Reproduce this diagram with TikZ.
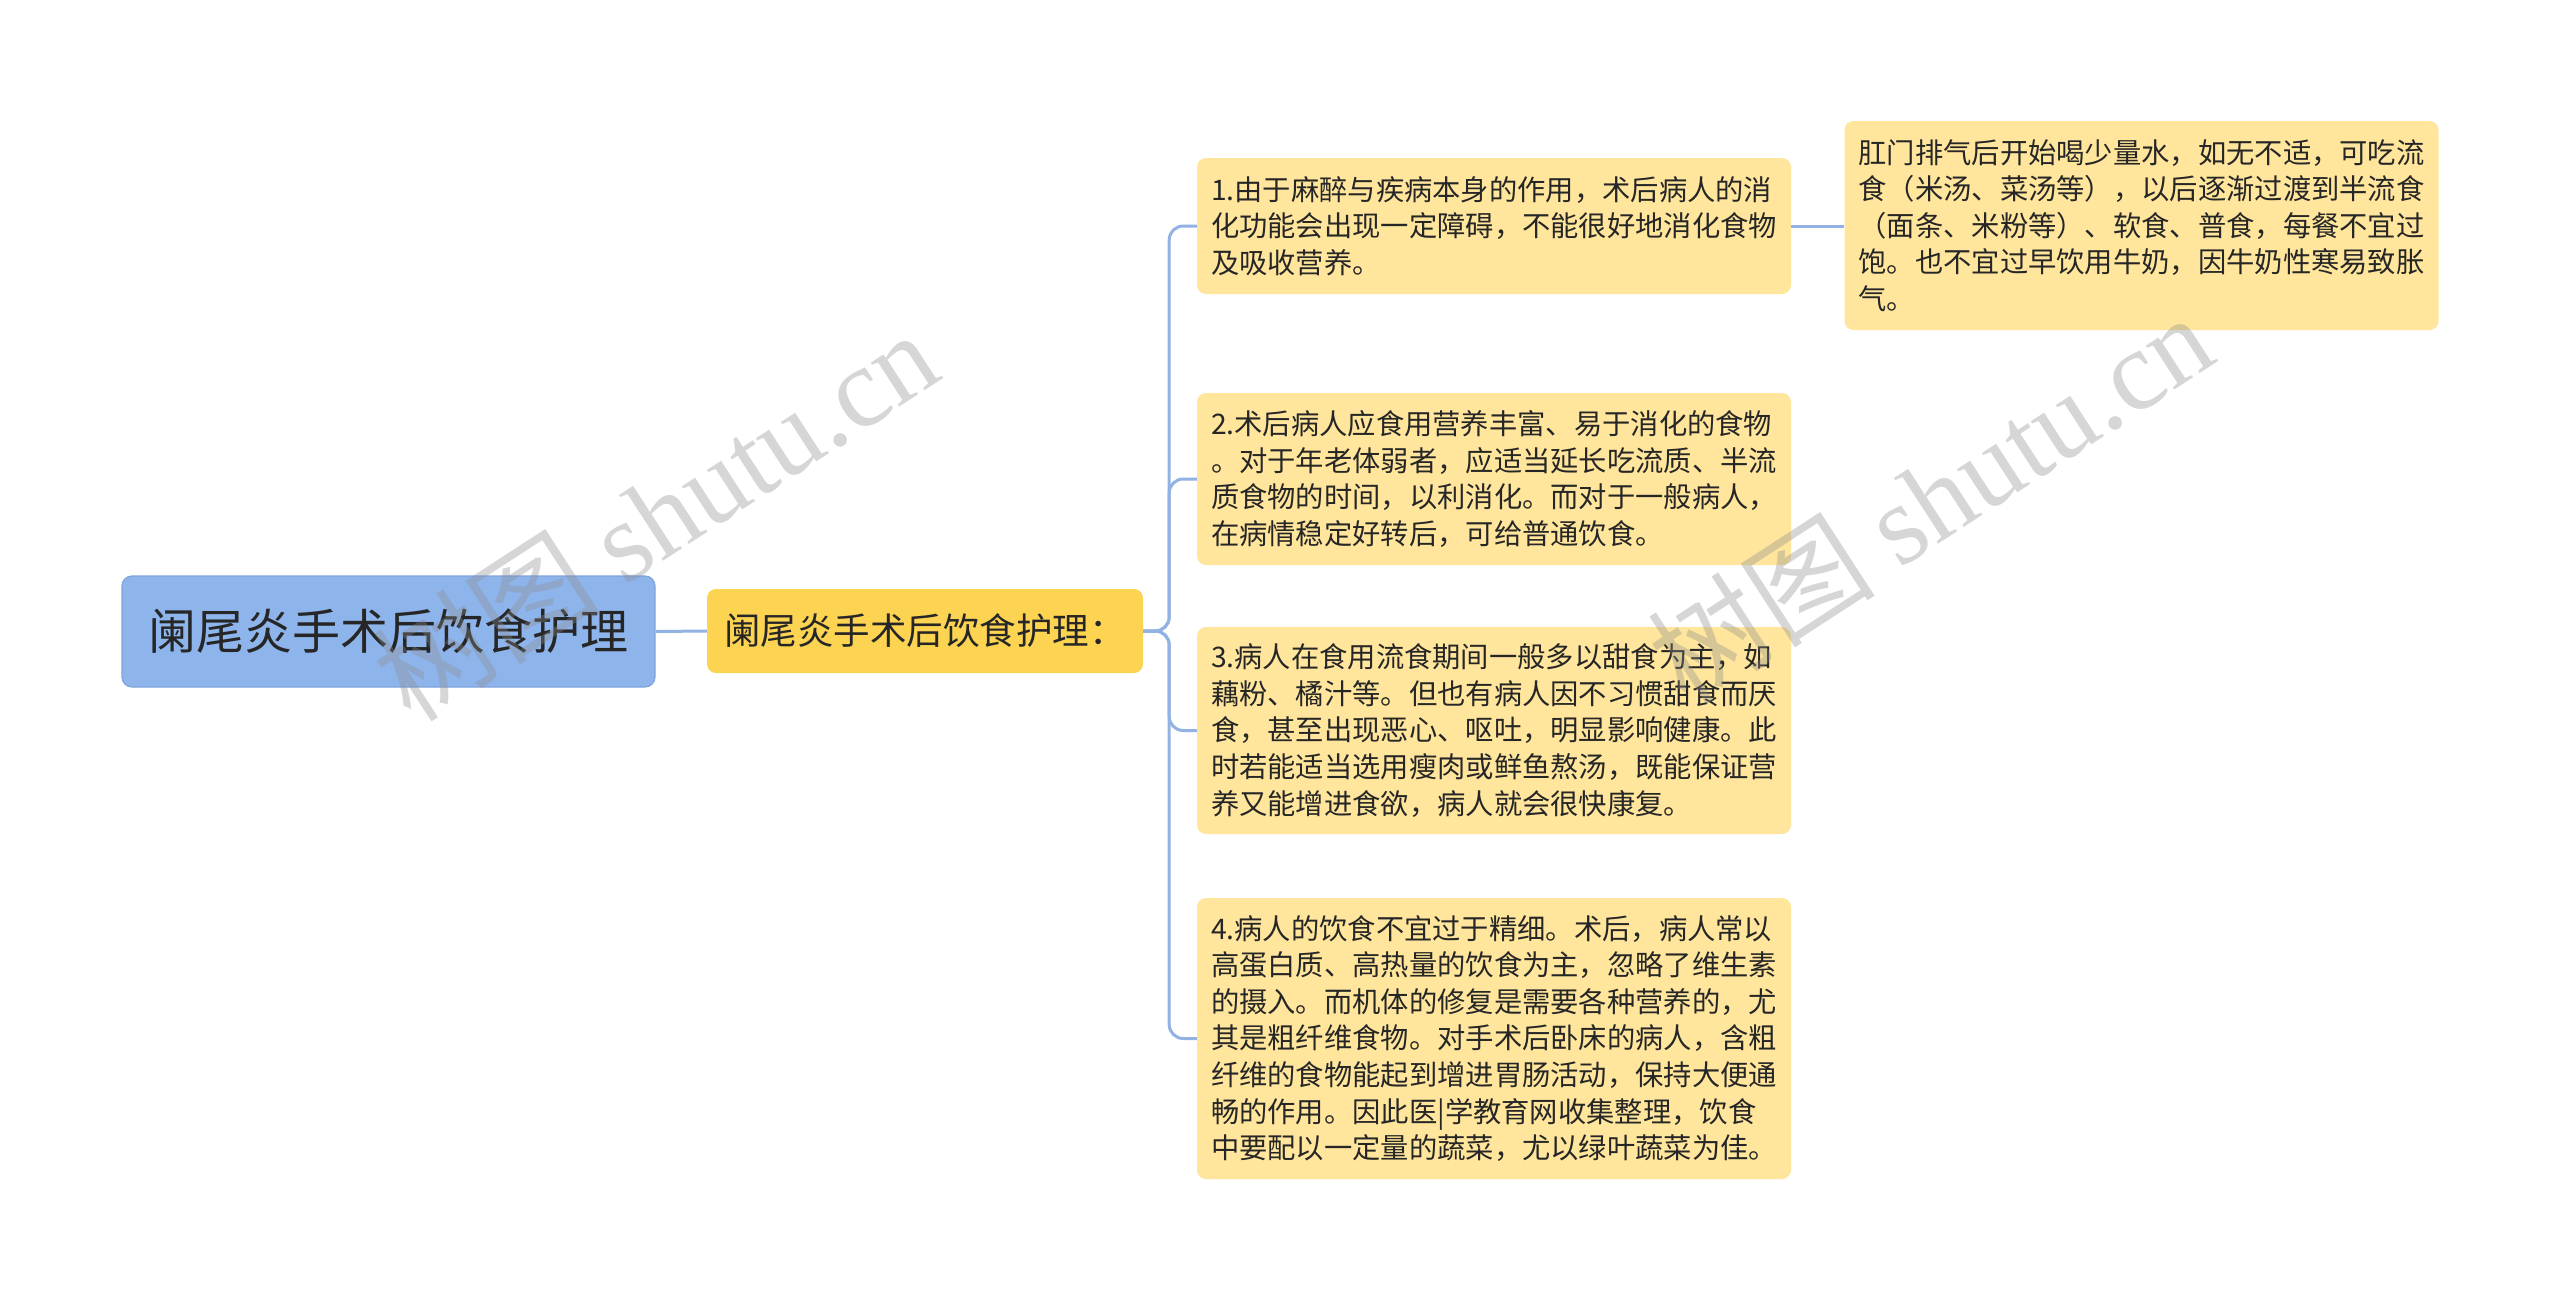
\documentclass[tikz,border=0pt]{standalone}
\usepackage{fontspec}
\setmainfont{Noto Sans CJK SC}
\newfontfamily\cjk{Noto Sans CJK SC}
\newfontfamily\wmlatin{Liberation Serif}
\definecolor{rootfill}{HTML}{8EB4EC}
\definecolor{rootdraw}{HTML}{7FA4DC}
\definecolor{midfill}{HTML}{FDD452}
\definecolor{leaffill}{HTML}{FFE69C}
\definecolor{linkc}{HTML}{92B2E4}
\definecolor{txt}{HTML}{262626}
\tikzset{
  rootbox/.style={draw=rootdraw, line width=1.2pt, fill=rootfill, rounded corners=10pt, minimum width=533pt, minimum height=111pt, inner sep=0pt, font=\cjk\fontsize{48}{56}\selectfont, text=txt},
  midbox/.style={fill=midfill, rounded corners=9pt, minimum width=436pt, minimum height=84pt, inner sep=0pt, font=\cjk\fontsize{36.5}{42}\selectfont, text=txt},
  leafbox/.style={fill=leaffill, rounded corners=9pt, minimum width=594pt, inner sep=0pt, align=left, font=\cjk\fontsize{28.3}{36.6}\selectfont, text=txt},
  link/.style={draw=linkc, line width=3pt, rounded corners=14pt},
  wm/.style={text=black!45, opacity=0.35, rotate=33, font=\fontsize{114}{120}\selectfont}
}
\begin{document}
\begin{tikzpicture}[x=1pt,y=-1pt]
\useasboundingbox[fill=white] (0,0) rectangle (2560,1302);

\node[rootbox] (root) at (388.5,631.5) {阑尾炎手术后饮食护理};
\node[midbox] (mid) at (925,631) {阑尾炎手术后饮食护理：};

\node[leafbox, minimum height=136pt] (l1) at (1494,226) {1.由于麻醉与疾病本身的作用，术后病人的消\\化功能会出现一定障碍，不能很好地消化食物\\及吸收营养。};
\node[leafbox, minimum height=172pt] (l2) at (1494,479) {2.术后病人应食用营养丰富、易于消化的食物\\。对于年老体弱者，应适当延长吃流质、半流\\质食物的时间，以利消化。而对于一般病人，\\在病情稳定好转后，可给普通饮食。};
\node[leafbox, minimum height=207pt] (l3) at (1494,730.5) {3.病人在食用流食期间一般多以甜食为主，如\\藕粉、橘汁等。但也有病人因不习惯甜食而厌\\食，甚至出现恶心、呕吐，明显影响健康。此\\时若能适当选用瘦肉或鲜鱼熬汤，既能保证营\\养又能增进食欲，病人就会很快康复。};
\node[leafbox, minimum height=281pt] (l4) at (1494,1038.5) {4.病人的饮食不宜过于精细。术后，病人常以\\高蛋白质、高热量的饮食为主，忽略了维生素\\的摄入。而机体的修复是需要各种营养的，尤\\其是粗纤维食物。对手术后卧床的病人，含粗\\纤维的食物能起到增进胃肠活动，保持大便通\\畅的作用。因此医|学教育网收集整理，饮食\\中要配以一定量的蔬菜，尤以绿叶蔬菜为佳。};
\node[leafbox, minimum height=209pt] (l5) at (2141.5,225.5) {肛门排气后开始喝少量水，如无不适，可吃流\\食（米汤、菜汤等），以后逐渐过渡到半流食\\（面条、米粉等）、软食、普食，每餐不宜过\\饱。也不宜过早饮用牛奶，因牛奶性寒易致胀\\气。};

\draw[link] (root.east) -- (mid.west);
\foreach \l in {l1,l2,l3,l4}{
  \draw[link] (mid.east) -- ++(26,0) |- (\l.west);
}
\draw[link] (l1.east) -- (l5.west |- l1.east);

% watermarks (drawn on top)
\node[wm] (wm1) at (655,515) {{\cjk 树图} {\wmlatin shutu.cn}};
\node[wm] (wm2) at (1930,498) {{\cjk 树图} {\wmlatin shutu.cn}};
\end{tikzpicture}
\end{document}
